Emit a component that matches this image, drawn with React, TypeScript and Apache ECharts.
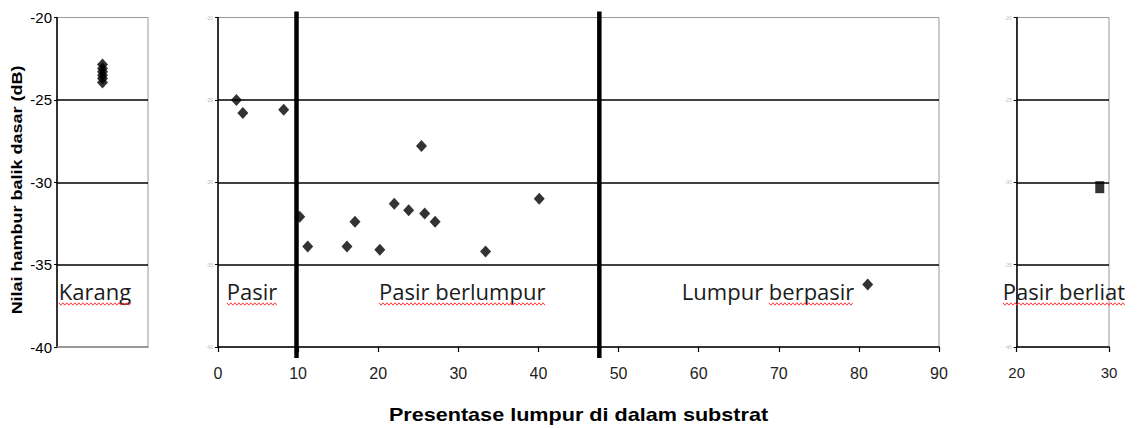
import React, { useEffect, useRef } from "react";
import * as echarts from "echarts";

// Y scale (dB)
const yMin = -40;
const yMax = -20;
const yStep = 5;

// Karang (coral) panel
const karangX = [1, 1, 1, 1, 1, 1];
const karangY = [-22.85, -23.1, -23.3, -23.5, -23.7, -23.95];

// Main panel: mud percentage vs backscatter
const mudPct = [2.3, 3.1, 8.2, 10.2, 11.2, 16.1, 17.1, 20.2, 22.0, 23.8, 25.4, 25.8, 27.1, 33.4, 40.1, 81.1];
const backscatter = [-25.0, -25.8, -25.6, -32.1, -33.9, -33.9, -32.4, -34.1, -31.3, -31.7, -27.8, -31.9, -32.4, -34.2, -31.0, -36.2];

// Pasir berliat panel
const clayX = [29.0];
const clayY = [-30.3];

// Class boundaries (mud %)
const boundaries = [9.8, 47.6];

// Axis ranges
const mainXMin = 0;
const mainXMax = 90;
const mainXStep = 10;
const clayXMin = 20;
const clayXMax = 30;
const clayXStep = 10;

// Annotations (in data coordinates of each panel)
const annotations = [
  { text: "Karang", grid: 0, x: 0.04, y: -36.6, wavy: "Karang", wavyOffset: "" },
  { text: "Pasir", grid: 1, x: 1.1, y: -36.6, wavy: "Pasir", wavyOffset: "" },
  { text: "Pasir berlumpur", grid: 1, x: 20.1, y: -36.6, wavy: "Pasir berlumpur", wavyOffset: "" },
  { text: "Lumpur berpasir", grid: 1, x: 57.9, y: -36.6, wavy: "berpasir", wavyOffset: "Lumpur " },
  { text: "Pasir berliat", grid: 2, x: 18.5, y: -36.6, wavy: "Pasir berliat", wavyOffset: "" },
];

const xTitle = "Presentase lumpur di dalam substrat";
const yTitle = "Nilai hambur balik dasar (dB)";

const ANNO_FONT = '22px "Open Sans"';

export default function App() {
  const ref = useRef<HTMLDivElement>(null);

  useEffect(() => {
    if (!ref.current) return;
    const chart = echarts.init(ref.current, undefined, { renderer: "svg" });

    const yAxisBase = (labelShow: boolean) => ({
      type: "value",
      min: yMin,
      max: yMax,
      interval: yStep,
      axisLine: { show: true, onZero: false, lineStyle: { color: "#000", width: 1.5 } },
      axisTick: { show: true, length: 3, lineStyle: { color: "#000", width: 1 } },
      splitLine: {
        show: true,
        showMinLine: false,
        showMaxLine: false,
        lineStyle: { color: "#000", width: 1.5 },
      },
      axisLabel: labelShow
        ? { show: true, fontSize: 15, color: "#000", margin: 5, fontFamily: "Liberation Sans" }
        : { show: true, fontSize: 5, color: "#bbb", margin: 5, fontFamily: "Liberation Sans" },
    });

    const grids = [
      { left: 57, top: 17.5, width: 91, height: 329.5 },
      { left: 218, top: 17.5, width: 721, height: 329.5 },
      { left: 1016.7, top: 17.5, width: 92.3, height: 329.5 },
    ].map((g) => ({ ...g, show: true, borderColor: "#999", borderWidth: 1, backgroundColor: "#fff" }));

    const option: any = {
      animation: false,
      backgroundColor: "#fff",
      grid: grids,
      xAxis: [
        {
          type: "value",
          gridIndex: 0,
          min: 0,
          max: 2,
          axisLine: { show: true, onZero: false, lineStyle: { color: "#888", width: 1.5 } },
          axisTick: { show: false },
          axisLabel: { show: false },
          splitLine: { show: false },
        },
        {
          type: "value",
          gridIndex: 1,
          min: mainXMin,
          max: mainXMax,
          interval: mainXStep,
          axisLine: { show: true, onZero: false, lineStyle: { color: "#000", width: 1.5 } },
          axisTick: { show: true, length: 5, lineStyle: { color: "#000", width: 1.2 } },
          axisLabel: { fontSize: 16, color: "#222", margin: 18, fontFamily: "Liberation Sans" },
          splitLine: { show: false },
        },
        {
          type: "value",
          gridIndex: 2,
          min: clayXMin,
          max: clayXMax,
          interval: clayXStep,
          axisLine: { show: true, onZero: false, lineStyle: { color: "#000", width: 1.5 } },
          axisTick: { show: true, length: 5, lineStyle: { color: "#000", width: 1.2 } },
          axisLabel: { fontSize: 15, color: "#222", margin: 18, fontFamily: "Liberation Sans" },
          splitLine: { show: false },
        },
      ],
      yAxis: [
        { ...yAxisBase(true), gridIndex: 0 },
        { ...yAxisBase(false), gridIndex: 1 },
        { ...yAxisBase(false), gridIndex: 2 },
      ],
      series: [
        {
          type: "scatter",
          xAxisIndex: 0,
          yAxisIndex: 0,
          symbol: "diamond",
          symbolSize: [11, 12],
          itemStyle: { color: "#000" },
          data: karangX.map((x, i) => [x, karangY[i]]),
          z: 5,
        },
        {
          type: "scatter",
          xAxisIndex: 1,
          yAxisIndex: 1,
          symbol: "diamond",
          symbolSize: [11, 12],
          itemStyle: { color: "#000" },
          data: mudPct.map((x, i) => [x, backscatter[i]]),
          z: 5,
        },
        {
          type: "scatter",
          xAxisIndex: 2,
          yAxisIndex: 2,
          symbol: "rect",
          symbolSize: [9, 12],
          itemStyle: { color: "#000" },
          data: clayX.map((x, i) => [x, clayY[i]]),
          z: 5,
        },
      ],
    };

    chart.setOption(option);

    // Derived graphics
    const canvas = document.createElement("canvas");
    const ctx = canvas.getContext("2d")!;
    ctx.font = ANNO_FONT;

    const graphics: any[] = [];

    boundaries.forEach((b) => {
      const top = chart.convertToPixel({ gridIndex: 1 }, [b, yMax]) as number[];
      const bottom = chart.convertToPixel({ gridIndex: 1 }, [b, yMin]) as number[];
      graphics.push({
        type: "line",
        z: 100,
        shape: { x1: top[0], y1: top[1] - 6, x2: bottom[0], y2: bottom[1] + 11 },
        style: { stroke: "#000", lineWidth: 4.5 },
      });
    });

    annotations.forEach((a) => {
      const p = chart.convertToPixel({ gridIndex: a.grid }, [a.x, a.y]) as number[];
      graphics.push({
        type: "text",
        z: 101,
        x: p[0],
        y: p[1],
        style: {
          text: a.text,
          font: ANNO_FONT,
          fill: "#1b1b1b",
          align: "left",
          verticalAlign: "middle",
          textAlign: "left",
          textVerticalAlign: "middle",
        },
      });
      const x0 = p[0] + (a.wavyOffset ? ctx.measureText(a.wavyOffset).width : 0);
      const x1 = x0 + ctx.measureText(a.wavy).width;
      const yw = p[1] + 13;
      const pts: number[][] = [];
      let k = 0;
      for (let x = x0; x <= x1; x += 2, k++) {
        pts.push([x, yw + (k % 2 === 0 ? -1.2 : 1.2)]);
      }
      graphics.push({
        type: "polyline",
        z: 101,
        shape: { points: pts },
        style: { stroke: "#f33", lineWidth: 1, fill: null },
      });
    });

    graphics.push({
      type: "text",
      z: 101,
      x: 17,
      y: 190,
      rotation: Math.PI / 2,
      scaleX: 1.2,
      style: {
        text: yTitle,
        font: 'bold 15px "Liberation Sans"',
        fill: "#000",
        align: "center",
        verticalAlign: "middle",
        textAlign: "center",
        textVerticalAlign: "middle",
      },
    });

    const mainLeft = chart.convertToPixel({ gridIndex: 1 }, [mainXMin, yMin]) as number[];
    const mainRight = chart.convertToPixel({ gridIndex: 1 }, [mainXMax, yMin]) as number[];
    graphics.push({
      type: "text",
      z: 101,
      x: (mainLeft[0] + mainRight[0]) / 2,
      y: 415,
      scaleX: 1.2,
      style: {
        text: xTitle,
        font: 'bold 18px "Liberation Sans"',
        fill: "#000",
        align: "center",
        verticalAlign: "middle",
        textAlign: "center",
        textVerticalAlign: "middle",
      },
    });

    chart.setOption({ graphic: { elements: graphics } });

    return () => chart.dispose();
  }, []);

  return (
    <div
      ref={ref}
      style={{ position: "fixed", left: 0, top: 0, width: 1138, height: 428, background: "#fff" }}
    />
  );
}
